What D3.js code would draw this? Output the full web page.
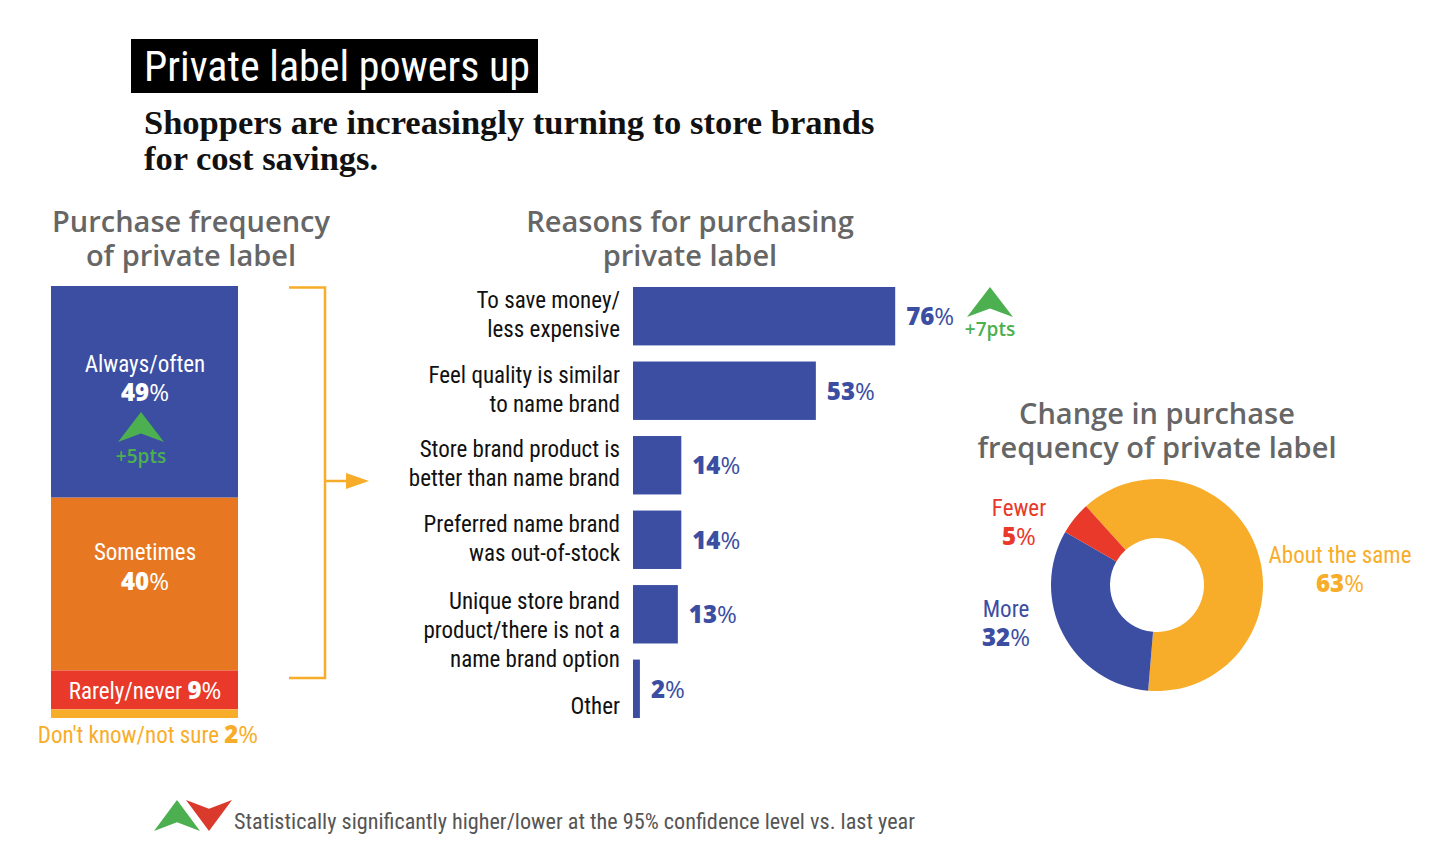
<!DOCTYPE html>
<html><head><meta charset="utf-8">
<script src="https://cdn.jsdelivr.net/npm/d3@7"></script>
<style>
body{margin:0;background:#fff;}
svg{display:block;}
.cond{font-family:"Liberation Sans Narrow","Roboto Condensed","Arial Narrow",sans-serif;}
.head{font-family:"Open Sans",sans-serif;font-weight:600;fill:#666;}
.num{font-family:"Open Sans",sans-serif;font-weight:800;}
</style></head>
<body>
<svg id="c" width="1440" height="865"></svg>
<script>
// ---- data ----
const freqCategories = ["Always/often","Sometimes","Rarely/never","Don't know/not sure"];
const freqValues = [49,40,9,2];
const reasonCategories = [
  ["To save money/","less expensive"],
  ["Feel quality is similar","to name brand"],
  ["Store brand product is","better than name brand"],
  ["Preferred name brand","was out-of-stock"],
  ["Unique store brand","product/there is not a","name brand option"],
  ["Other"]
];
const reasonValues = [76,53,14,14,13,2];
const changeCategories = ["About the same","More","Fewer"];
const changeValues = [63,32,5];
const sigChanges = {freq:"+5pts", reason:"+7pts"};

const BLUE="#3b4ea2", ORANGE="#e87722", RED="#e8392a", YELLOW="#f8ad2a", GREEN="#4caf50", GRAY="#666";
const svg = d3.select("#c");

// ---- title ----
svg.append("rect").attr("x",131).attr("y",39).attr("width",407).attr("height",54).attr("fill","#000");
svg.append("text").attr("class","cond").attr("x",144).attr("y",81).attr("font-size",42)
  .attr("fill","#fff").text("Private label powers up");
const sub = svg.append("text").attr("font-family","'Liberation Serif',serif").attr("font-weight",700)
  .attr("font-size",34.5).attr("fill","#111");
sub.append("tspan").attr("x",144).attr("y",134).text("Shoppers are increasingly turning to store brands");
sub.append("tspan").attr("x",144).attr("y",170).text("for cost savings.");

function heading(cx, y, lines){
  lines.forEach((l,i)=>svg.append("text").attr("class","head").attr("font-size",29)
    .attr("text-anchor","middle").attr("x",cx).attr("y",y+i*34).text(l));
}
heading(191,232,["Purchase frequency","of private label"]);
heading(690,232,["Reasons for purchasing","private label"]);
heading(1157,424,["Change in purchase","frequency of private label"]);

function sigArrow(g, cx, top, w, h, color, down){
  const b = top+h;
  const pts = down
    ? [[cx,b],[cx+w/2,top],[cx,top+h*0.28],[cx-w/2,top]]
    : [[cx,top],[cx+w/2,b],[cx,b-h*0.28],[cx-w/2,b]];
  g.append("path").attr("d","M"+pts.map(p=>p.join(",")).join("L")+"Z").attr("fill",color);
}
function pctText(sel, v, size){
  sel.append("tspan").attr("class","num").attr("font-size",size).text(v);
  sel.append("tspan").attr("font-family","'Open Sans',sans-serif").attr("font-weight",400).attr("font-size",size).text("%");
}

// ---- stacked frequency bar ----
const yF = d3.scaleLinear().domain([0,100]).range([286,718]);
const stack = [];
let acc=0;
freqValues.forEach((v,i)=>{stack.push({cat:freqCategories[i],v,y0:acc,y1:acc+v});acc+=v;});
const fColors=[BLUE,ORANGE,RED,YELLOW];
const gF = svg.append("g");
gF.selectAll("rect").data(stack).join("rect")
  .attr("x",51).attr("width",187)
  .attr("y",d=>yF(d.y0)).attr("height",d=>yF(d.y1)-yF(d.y0))
  .attr("fill",(d,i)=>fColors[i]);
const bx = 145;
let t = gF.append("text").attr("class","cond").attr("x",bx).attr("y",yF(stack[0].y0)+86)
  .attr("text-anchor","middle").attr("font-size",23).attr("fill","#fff").text(stack[0].cat);
t = gF.append("text").attr("x",bx).attr("y",yF(stack[0].y0)+115).attr("text-anchor","middle").attr("fill","#fff");
pctText(t, stack[0].v, 24);
sigArrow(gF, 141, yF(stack[0].y0)+126, 46, 30, GREEN, false);
gF.append("text").attr("x",141).attr("y",yF(stack[0].y0)+177).attr("text-anchor","middle")
  .attr("font-family","'Open Sans',sans-serif").attr("font-weight",600).attr("font-size",19).attr("fill",GREEN).text(sigChanges.freq);
gF.append("text").attr("class","cond").attr("x",bx).attr("y",yF(stack[1].y0)+62)
  .attr("text-anchor","middle").attr("font-size",23).attr("fill","#fff").text(stack[1].cat);
t = gF.append("text").attr("x",bx).attr("y",yF(stack[1].y0)+92).attr("text-anchor","middle").attr("fill","#fff");
pctText(t, stack[1].v, 24);
t = gF.append("text").attr("x",bx).attr("y",(yF(stack[2].y0)+yF(stack[2].y1))/2+9).attr("text-anchor","middle").attr("fill","#fff");
t.append("tspan").attr("class","cond").attr("font-size",23).text(stack[2].cat+" ");
pctText(t, stack[2].v, 24);
t = gF.append("text").attr("x",148).attr("y",743).attr("text-anchor","middle").attr("fill",YELLOW);
t.append("tspan").attr("class","cond").attr("font-size",23).text(stack[3].cat+" ");
pctText(t, stack[3].v, 24);

// bracket + arrow
const br = svg.append("g").attr("stroke",YELLOW).attr("stroke-width",2.5).attr("fill","none");
br.append("path").attr("d",`M289,${yF(0)+1.5}H325V678H289`);
br.append("path").attr("d","M325,481H348");
svg.append("path").attr("d","M346,473L369,481L346,489Z").attr("fill",YELLOW);

// ---- reasons bar chart ----
const xR = d3.scaleLinear().domain([0,100]).range([633,978]);
const yR = d3.scaleBand().domain(d3.range(reasonValues.length)).range([287,718]).paddingInner(0.216).paddingOuter(0);
const gR = svg.append("g");
gR.selectAll("rect").data(reasonValues).join("rect")
  .attr("x",xR(0)).attr("y",(d,i)=>yR(i)).attr("height",yR.bandwidth())
  .attr("width",d=>xR(d)-xR(0)).attr("fill",BLUE);
reasonValues.forEach((v,i)=>{
  const lines = reasonCategories[i];
  const lt = gR.append("text").attr("class","cond").attr("text-anchor","end").attr("font-size",23).attr("fill","#111");
  lines.forEach((l,j)=>{
    const y = lines.length===1 ? yR(i)+yR.bandwidth()-4 : yR(i)+(lines.length>2?24:21)+j*29;
    lt.append("tspan").attr("x",620).attr("y",y).text(l);
  });
  const vt = gR.append("text").attr("x",xR(v)+11).attr("y",yR(i)+yR.bandwidth()/2+9).attr("fill",BLUE);
  pctText(vt, v, 24);
});
sigArrow(gR, 990, 287, 46, 30, GREEN, false);
gR.append("text").attr("x",990).attr("y",336).attr("text-anchor","middle")
  .attr("font-family","'Open Sans',sans-serif").attr("font-weight",600).attr("font-size",19).attr("fill",GREEN).text(sigChanges.reason);

// ---- donut ----
const cx=1157, cy=585;
const pie = d3.pie().sort(null).startAngle(-42*Math.PI/180).endAngle(318*Math.PI/180);
const arc = d3.arc().innerRadius(47).outerRadius(106);
const dColors=[YELLOW,BLUE,RED];
const gD = svg.append("g").attr("transform",`translate(${cx},${cy})`);
gD.selectAll("path").data(pie(changeValues)).join("path").attr("d",arc).attr("fill",(d,i)=>dColors[i]);
const dl = [{x:1340,y:563},{x:1006,y:617},{x:1019,y:516}];
changeCategories.forEach((c,i)=>{
  svg.append("text").attr("class","cond").attr("x",dl[i].x).attr("y",dl[i].y).attr("text-anchor","middle")
    .attr("font-size",23).attr("fill",dColors[i]).text(c);
  const vt = svg.append("text").attr("x",dl[i].x).attr("y",dl[i].y+29).attr("text-anchor","middle").attr("fill",dColors[i]);
  pctText(vt, changeValues[i], 24);
});

// ---- footer ----
const gL = svg.append("g");
sigArrow(gL, 177, 800, 46, 31, GREEN, false);
sigArrow(gL, 209, 800, 46, 31, "#d93a2b", true);
gL.append("text").attr("class","cond").attr("x",234).attr("y",829).attr("font-size",22.2).attr("fill","#555")
  .text("Statistically significantly higher/lower at the 95% confidence level vs. last year");
</script>
</body></html>
